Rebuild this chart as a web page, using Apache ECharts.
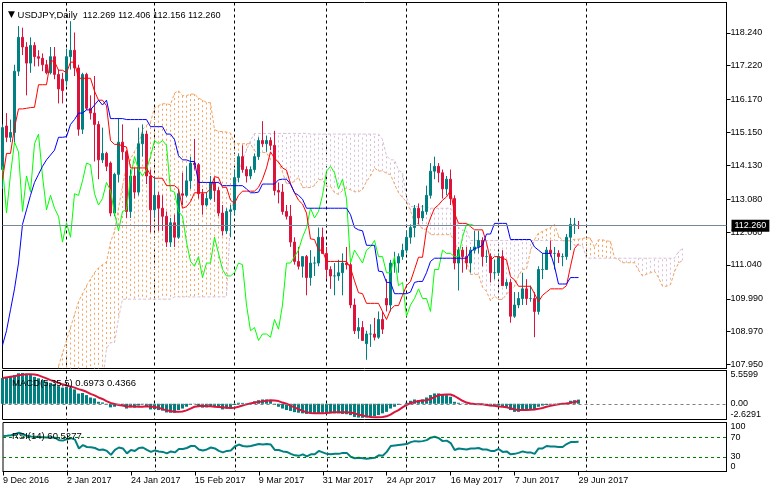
<!DOCTYPE html>
<html><head><meta charset="utf-8">
<script src="https://cdn.jsdelivr.net/npm/echarts@6/dist/echarts.min.js"></script>
<style>html,body{margin:0;padding:0;background:#fff}#c{width:771px;height:493px}</style>
</head><body><div id="c"></div>
<script>
// ---------- data ----------
const symbolTitle = 'USDJPY,Daily';
const dateLabels = ['9 Dec 2016','2 Jan 2017','24 Jan 2017','15 Feb 2017','9 Mar 2017','31 Mar 2017','24 Apr 2017','16 May 2017','7 Jun 2017','29 Jun 2017'];
const labelBars = [0,16,32,48,64,80,96,112,128,144];
const monthStarts = [16,38,58,81,101,124,146];
const priceTicks = [107.95,108.97,109.99,111.04,112.06,113.08,114.13,115.15,116.17,117.22,118.24];
const priceRange = [107.83,119.18];
const macdTicks = [-2.6291,0,5.5599];
const rsiTicks = [0,30,70,100];
const rsiLevels = [30,70];

const opens = [114.00,115.35,115.00,115.15,117.05,118.10,117.80,117.30,117.85,117.50,
117.45,117.25,117.00,117.50,116.95,116.80,116.75,117.50,117.70,117.15,
115.25,116.95,115.90,115.75,115.40,114.30,114.50,114.20,112.65,113.85,
114.85,114.55,112.70,113.80,113.30,114.80,115.10,113.80,112.75,113.20,
112.80,112.55,111.75,112.35,111.90,113.25,113.20,113.65,114.20,114.15,
113.25,112.90,113.10,113.60,113.35,112.65,112.10,112.70,112.75,113.75,
114.40,114.00,113.80,114.00,114.40,114.90,114.80,114.90,114.75,113.35,
113.30,112.70,112.55,111.75,111.15,111.00,111.30,110.65,111.10,111.10,
111.90,111.40,110.90,110.70,110.70,110.80,111.10,111.05,109.80,109.00,
109.10,108.60,108.90,108.90,108.80,109.35,110.00,109.80,111.10,111.10,
111.30,111.50,111.90,112.20,112.80,112.50,112.70,113.20,113.95,114.10,
113.90,113.40,113.70,113.10,111.10,111.50,111.30,111.10,111.50,111.60,
111.80,111.30,111.30,110.80,110.80,111.30,110.40,110.50,109.45,109.80,
110.00,110.30,110.00,110.00,109.60,110.90,110.90,111.50,111.40,111.40,
111.30,111.30,111.90,112.30,112.269];
const highs = [115.40,115.75,115.55,117.25,118.45,118.40,117.95,118.10,117.95,117.70,
117.60,117.40,117.80,117.80,117.10,117.00,117.75,118.60,118.25,117.25,
117.00,117.00,116.30,116.90,115.50,115.30,114.55,114.25,113.90,115.60,
115.40,114.60,114.00,114.05,115.30,115.40,115.20,114.00,113.80,113.30,
113.20,112.70,112.50,112.60,113.40,113.90,114.10,114.40,114.95,114.20,
113.40,113.30,113.80,113.75,113.45,112.90,112.80,112.90,114.00,114.50,
114.75,114.10,114.10,114.50,115.00,115.50,115.05,115.00,115.20,113.60,
113.55,112.90,112.90,111.90,111.60,111.30,111.35,111.50,111.30,112.20,
112.20,111.60,111.00,111.10,111.20,111.40,111.60,111.10,110.00,109.40,
109.30,109.00,109.20,109.40,109.60,109.60,110.60,111.20,111.45,111.40,
111.70,112.10,112.30,112.90,112.95,112.90,113.50,114.20,114.40,114.20,
114.00,113.80,114.00,113.20,111.60,111.60,111.60,111.60,112.10,112.10,
111.90,111.50,111.40,111.20,111.40,111.50,110.60,110.60,110.20,110.20,
110.80,110.60,110.40,110.20,111.00,111.40,111.60,111.80,111.60,111.50,
111.40,112.00,112.50,112.50,112.406];
const lows = [113.40,114.85,114.85,114.80,116.90,117.55,116.30,117.00,117.20,117.20,
117.05,116.95,116.95,116.80,116.05,116.05,116.60,117.10,116.90,115.05,
115.10,115.85,115.55,114.25,113.70,114.20,113.95,112.55,112.55,113.60,
114.30,112.50,112.50,113.10,113.20,114.40,113.55,112.05,112.50,112.10,
112.10,111.60,111.60,111.60,111.85,112.90,113.15,113.40,114.00,113.10,
112.60,112.85,113.05,113.00,112.55,111.95,112.00,111.90,112.60,113.60,
113.90,113.60,113.70,113.90,114.30,114.70,114.55,114.60,113.20,112.95,
112.60,112.45,111.60,111.05,110.90,110.65,110.10,110.40,110.70,111.00,
111.40,110.60,110.30,110.10,110.55,110.10,110.90,109.70,108.90,108.75,
108.70,108.10,108.50,108.70,108.75,108.90,109.60,109.60,110.80,110.80,
111.20,111.40,111.70,111.90,112.30,112.40,112.60,113.10,113.70,113.60,
113.10,113.20,112.90,110.90,110.25,110.80,110.90,110.80,111.40,111.40,
111.00,111.10,110.50,110.60,110.70,110.40,110.30,109.25,109.40,109.70,
109.80,109.80,109.90,108.80,109.50,110.60,110.90,111.30,110.90,111.10,
111.00,111.20,111.50,112.00,112.156];
const closes = [115.30,115.00,115.15,117.05,118.10,117.80,117.30,117.85,117.50,117.45,
117.25,117.00,117.50,116.95,116.50,116.45,117.50,117.70,117.15,115.25,
116.95,115.90,115.75,115.40,114.30,114.50,114.10,112.65,113.85,114.85,
114.55,112.70,113.80,113.30,114.80,115.10,113.80,112.75,113.20,112.80,
112.55,111.75,112.35,111.90,113.25,113.20,113.65,114.20,114.15,113.25,
112.90,113.10,113.60,113.35,112.65,112.10,112.70,112.75,113.75,114.40,
114.00,113.80,114.00,114.40,114.90,114.80,114.90,114.75,113.35,113.30,
112.70,112.55,111.75,111.15,111.00,111.30,110.65,111.10,111.10,111.90,
111.40,110.90,110.70,110.70,110.80,111.10,111.05,109.80,109.00,109.10,
108.70,108.90,108.90,108.80,109.35,109.05,109.80,111.10,111.10,111.30,
111.50,111.90,112.20,112.80,112.50,112.70,113.20,113.95,114.10,113.90,
113.40,113.70,113.10,111.10,111.50,111.30,111.10,111.50,111.60,111.80,
111.30,111.30,110.80,110.80,111.30,110.40,110.50,109.45,109.80,110.00,
110.30,110.00,110.00,109.60,110.90,110.90,111.50,111.40,111.40,111.30,
111.30,111.90,112.30,112.30,112.260];

const tenkan = [113.7,114.5,114.5,115.3,115.88,115.88,115.9,115.92,115.93,116.63,
116.63,116.63,117.38,117.35,117.08,117.08,117.0,117.33,117.33,116.83,
116.83,116.83,116.83,116.43,116.15,116.15,115.98,114.9,114.78,114.78,
114.73,114.7,114.05,114.05,114.05,114.05,114.05,113.83,113.73,113.73,
113.73,113.5,113.5,113.5,113.4,112.8,112.85,113.0,113.28,113.28,
113.28,113.28,113.4,113.78,113.75,113.45,113.45,113.05,112.95,113.2,
113.33,113.33,113.33,113.33,113.45,113.7,114.05,114.55,114.35,114.23,
114.05,113.98,113.55,113.28,113.05,112.93,112.65,111.85,111.83,111.5,
111.5,111.15,111.15,111.15,111.15,111.15,111.15,110.95,110.55,110.18,
110.15,109.85,109.85,109.85,109.85,109.6,109.35,109.65,109.78,109.78,
110.1,110.4,110.53,110.9,111.28,111.28,112.15,112.5,112.8,112.9,
113.05,113.15,113.35,112.65,112.33,112.33,112.33,112.23,112.13,112.13,
112.13,111.73,111.18,111.3,111.3,111.25,111.2,110.68,110.58,110.38,
110.38,110.38,110.38,110.15,109.9,110.1,110.2,110.3,110.3,110.3,
110.3,110.4,111.0,111.55,111.7];
const kijun = [108.55,109.0,109.65,110.3,111.1,112.3,112.75,113.2,113.6,113.85,
114.1,114.3,114.45,114.6,115.0,115.0,115.02,115.4,115.55,115.75,
115.75,115.85,115.85,116.0,116.15,116.0,116.15,115.58,115.58,115.58,
115.58,115.55,115.55,115.55,115.55,115.55,115.55,115.33,115.33,115.33,
115.33,115.1,115.1,114.93,114.43,114.3,114.3,114.25,114.25,113.6,
113.6,113.6,113.6,113.6,113.6,113.5,113.5,113.5,113.5,113.5,
113.5,113.4,113.28,113.28,113.3,113.55,113.55,113.55,113.55,113.68,
113.7,113.7,113.55,113.28,113.2,113.08,112.8,112.8,112.8,112.8,
112.8,112.8,112.8,112.8,112.8,112.8,112.8,112.6,112.2,112.13,
112.1,111.65,111.65,111.65,110.85,110.83,110.5,110.5,110.15,110.15,
110.15,110.15,110.2,110.5,110.53,110.53,110.8,111.15,111.25,111.25,
111.25,111.25,111.25,111.25,111.25,111.25,111.25,111.45,111.55,111.58,
111.65,112.0,112.0,112.33,112.33,112.33,112.33,111.83,111.83,111.83,
111.83,111.83,111.83,111.6,111.5,111.4,111.4,111.4,111.0,110.45,
110.45,110.45,110.65,110.65,110.65];
const spanA = [null,null,null,null,null,null,null,null,null,null,null,null,null,null,
107.9,108.3,108.7,109.1,109.5,109.9,110.15,110.4,110.6,110.8,110.95,111.05,
111.13,111.75,112.08,112.8,113.49,114.09,114.33,114.56,114.77,115.24,
115.37,115.47,115.92,115.98,116.04,116.04,116.01,116.37,116.44,116.29,
116.29,116.34,116.34,116.22,116.15,116.08,116.07,115.24,115.18,115.18,
115.16,115.13,114.8,114.8,114.8,114.8,114.8,114.58,114.53,114.53,
114.53,114.3,114.3,114.22,113.92,113.55,113.58,113.63,113.77,113.44,
113.44,113.44,113.5,113.69,113.68,113.48,113.48,113.28,113.23,113.35,
113.42,113.37,113.31,113.31,113.38,113.63,113.8,114.05,113.95,113.96,
113.88,113.84,113.55,113.28,113.13,113.0,112.73,112.33,112.32,112.15,
112.15,111.98,111.98,111.98,111.98,111.98,111.98,111.78,111.38,111.16,
111.13,110.75,110.75,110.75,110.35,110.22,109.93,110.08,109.97,109.97,
110.13,110.28,110.37,110.7,110.91,110.91,111.48,111.83,112.03,112.08,
112.15,112.2,112.3,111.95,111.79,111.79,111.79,111.84,111.84,111.86,
111.89,111.87,111.59,111.82,111.82,111.79,111.77,111.26,111.21,111.11,
111.11,111.11,111.11,110.88,110.7,110.75,110.8,110.85,110.65,110.38,
110.38,110.43,110.83,111.1,111.18];
const spanB = [107.4,107.4,107.4,107.4,107.4,107.4,107.4,107.4,107.4,107.4,107.4,107.4,107.4,
107.4,107.4,107.4,107.4,107.4,107.4,107.4,107.4,107.4,107.4,107.4,107.4,107.4,
108.45,108.63,108.63,109.38,
109.98,109.98,109.98,109.98,109.98,109.98,109.98,109.98,109.98,109.98,109.98,109.98,109.98,
110.05,110.05,110.05,110.05,110.05,110.05,110.05,110.05,110.05,110.05,110.05,110.05,110.05,110.05,
112.5,113.3,113.9,114.3,114.6,114.9,
115.12,115.12,115.12,115.12,115.12,115.12,115.12,115.12,115.12,115.12,115.12,115.12,115.12,115.12,
115.1,115.1,115.1,115.1,115.1,115.1,115.1,115.1,115.1,115.1,115.1,115.1,115.1,115.1,115.1,115.1,115.1,115.1,
114.93,114.43,114.3,114.3,113.98,113.9,113.13,
112.85,112.85,112.85,112.85,112.85,
112.8,112.8,112.8,112.8,112.8,112.8,
112.6,112.2,112.13,112.1,
111.8,111.8,111.8,111.8,111.8,111.8,111.8,111.8,111.8,111.8,111.8,111.8,111.8,
111.8,111.8,111.8,111.8,111.8,111.8,111.8,111.8,111.8,111.8,111.8,111.8,111.8,
111.65,111.65,111.65,
111.25,111.25,111.25,111.25,111.25,111.25,111.25,111.25,111.25,111.25,111.25,111.25,
111.25,111.25,111.25,111.25,111.25,111.25,111.25,111.25,111.25,111.25,111.25,
111.45,111.55];

const macdMain = [4.3,4.5,4.6,4.8,5.1,5.15,5.0,4.8,4.5,4.25,
3.95,3.7,3.5,3.3,2.95,2.7,2.8,2.7,2.4,1.7,
1.8,1.45,1.05,0.9,0.33,0.22,-0.1,-0.6,-0.5,-0.05,
-0.2,-0.8,-0.6,-0.65,-0.3,-0.05,-0.4,-0.95,-0.9,-1.05,
-1.15,-1.45,-1.5,-1.5,-1.05,-0.8,-0.5,-0.2,-0.05,-0.4,
-0.65,-0.6,-0.4,-0.4,-0.65,-0.95,-0.8,-0.65,-0.2,0.17,
0.15,0.05,0.15,0.4,0.6,0.72,0.72,0.6,-0.2,-0.5,
-0.8,-1.05,-1.2,-1.4,-1.5,-1.6,-1.7,-1.6,-1.6,-1.55,
-1.5,-1.6,-1.6,-1.6,-1.6,-1.7,-1.75,-1.9,-2.2,-2.3,
-2.35,-2.3,-2.2,-2.1,-1.9,-1.6,-1.35,-0.8,-0.5,-0.2,
0.0,0.17,0.5,0.72,0.6,0.72,1.05,1.45,1.73,1.73,
1.6,1.45,1.17,0.33,0.17,0.05,-0.1,-0.1,0.05,0.05,
-0.1,-0.2,-0.4,-0.4,-0.3,-0.5,-0.65,-1.05,-1.35,-1.35,
-1.05,-0.95,-0.95,-1.05,-0.5,-0.3,-0.2,-0.1,0.05,0.05,
0.05,0.17,0.5,0.6,0.6973];
const macdSignal = [4.3,4.4,4.5,4.6,4.75,4.85,4.95,4.95,4.9,4.75,
4.5,4.25,3.95,3.75,3.5,3.25,3.05,2.9,2.7,2.45,
2.25,2.0,1.65,1.4,1.05,0.8,0.45,0.15,-0.05,-0.2,
-0.3,-0.45,-0.45,-0.45,-0.5,-0.5,-0.4,-0.45,-0.55,-0.65,
-0.9,-1.1,-1.2,-1.35,-1.35,-1.3,-1.1,-0.8,-0.5,-0.4,
-0.35,-0.4,-0.4,-0.5,-0.55,-0.6,-0.65,-0.7,-0.65,-0.5,
-0.3,-0.1,0.05,0.2,0.3,0.4,0.5,0.6,0.55,0.45,
0.2,0.0,-0.3,-0.6,-0.9,-1.2,-1.4,-1.55,-1.6,-1.6,
-1.6,-1.55,-1.45,-1.4,-1.4,-1.4,-1.4,-1.45,-1.6,-1.8,
-1.95,-2.1,-2.2,-2.25,-2.25,-2.2,-2.1,-1.8,-1.4,-1.05,
-0.6,-0.2,0.1,0.3,0.45,0.55,0.6,0.8,1.1,1.45,
1.5,1.55,1.55,1.3,0.9,0.5,0.2,0.05,-0.05,-0.1,
-0.1,-0.2,-0.3,-0.35,-0.45,-0.5,-0.6,-0.75,-0.95,-1.05,
-1.05,-1.05,-1.0,-0.95,-0.85,-0.7,-0.5,-0.35,-0.2,-0.1,
0.0,0.05,0.15,0.3,0.4366];
const rsi = [72.7,73,74,76,79,76,73,71.5,71,70.5,
70,69.5,70,69,64,63,66,68,65,47,
54,50,49.5,48,44,45,42,34,44,49,
47,37,44,42,48,49,44,40,43,41,
40,37,41,39,46,46,48,52,52,45,
43,45,49,47,42,39,42,43,51,55,
52,51,52,54,56,55,56,55,44,44,
41,40,36,33,32,35,31,35,35,42,
39,36,35,36,36,38,38,30,27,28,
27,26,27,28,33,32,40,52,53,54,
55,56,60,62,61,62,64,69,71,68,
62,63,58,44,47,46,45,47,47,48,
45,45,42,42,46,40,41,35,36,38,
41,39,39,36,47,47,52,51,51,50,
50,56,60,60,60.5277];

// ---------- chart ----------
const FONT = 'Liberation Sans';
const N = 182;
const cats = Array.from({length: N}, (_, i) => String(i));
const last = closes.length - 1;
const candleData = opens.map((o, i) => [o, closes[i], lows[i], highs[i]]);
const chikou = closes.slice(26);
const cloudData = [];
spanA.forEach((a, j) => { if (a != null && spanB[j] != null) cloudData.push([j, a, spanB[j]]); });

const isMonth = (idx) => monthStarts.indexOf(idx) >= 0;
const isLabel = (idx) => labelBars.indexOf(idx) >= 0;
const sep = {show: true, interval: isMonth, lineStyle: {color: '#000', type: [3, 3], width: 1}};

function xAx(g, withLabels) {
  return {
    type: 'category', gridIndex: g, data: cats, boundaryGap: false,
    axisLine: {show: withLabels, lineStyle: {color: '#000'}},
    axisTick: {show: withLabels, interval: isLabel, length: 4, lineStyle: {color: '#000'}},
    axisLabel: {show: withLabels, interval: isLabel, align: 'left', margin: 5,
      fontFamily: FONT, fontSize: 9, color: '#000',
      formatter: (v, idx) => dateLabels[labelBars.indexOf(Number(v))] || ''},
    splitLine: sep
  };
}
const labelStyle = {fontFamily: FONT, fontSize: 9, color: '#000', margin: 4};
const GL = 2.5, GW = 724;
const quote = [opens[last], highs[last], lows[last], closes[last]].map(v => v.toFixed(3)).join(' ');

const option = {
  animation: false,
  backgroundColor: '#fff',
  title: [
    {left: 3, top: 5, text: '{t|▼} ' + symbolTitle + '  {n|' + quote + '}',
      textStyle: {fontFamily: FONT, fontSize: 9.5, fontWeight: 'normal', color: '#000',
        rich: {t: {fontSize: 9, color: '#000', fontFamily: 'DejaVu Sans'}, n: {fontSize: 9.2, color: '#000', fontFamily: FONT}}}},
    {left: 7, top: 373, text: 'MACD(5,35,5) ' + macdMain[last].toFixed(4) + ' ' + macdSignal[last].toFixed(4),
      textStyle: {fontFamily: FONT, fontSize: 9.5, fontWeight: 'normal', color: '#000'}},
    {left: 7, top: 426, text: 'RSI(14) ' + rsi[last].toFixed(4),
      textStyle: {fontFamily: FONT, fontSize: 9.5, fontWeight: 'normal', color: '#000'}}
  ],
  grid: [
    {left: GL, top: 2.5, width: GW, height: 366, show: true, borderColor: '#000', borderWidth: 1},
    {left: GL, top: 370.5, width: GW, height: 49, show: true, borderColor: '#000', borderWidth: 1},
    {left: GL, top: 422.5, width: GW, height: 49, show: true, borderColor: '#000', borderWidth: 1}
  ],
  xAxis: [xAx(0, false), xAx(1, false), xAx(2, true)],
  yAxis: [
    {type: 'value', gridIndex: 0, position: 'right', min: priceRange[0], max: priceRange[1],
      axisLine: {show: true, lineStyle: {color: '#000'}},
      axisTick: {show: true, length: 4, customValues: priceTicks, lineStyle: {color: '#000'}},
      axisLabel: Object.assign({customValues: priceTicks, formatter: v => v.toFixed(3)}, labelStyle),
      splitLine: {show: false}},
    {type: 'value', gridIndex: 1, position: 'right', min: macdTicks[0], max: macdTicks[2],
      axisLine: {show: true, lineStyle: {color: '#000'}},
      axisTick: {show: false},
      axisLabel: Object.assign({customValues: macdTicks, formatter: v => v === 0 ? '0.00' : v.toFixed(4),
        verticalAlignMinLabel: 'bottom', verticalAlignMaxLabel: 'top'}, labelStyle),
      splitLine: {show: false}},
    {type: 'value', gridIndex: 2, position: 'right', min: rsiTicks[0], max: rsiTicks[3],
      axisLine: {show: true, lineStyle: {color: '#000'}},
      axisTick: {show: false},
      axisLabel: Object.assign({customValues: rsiTicks, formatter: v => String(v),
        verticalAlignMinLabel: 'bottom', verticalAlignMaxLabel: 'top'}, labelStyle),
      splitLine: {show: false}}
  ],
  series: [
    {type: 'custom', name: 'kumo', xAxisIndex: 0, yAxisIndex: 0, z: 1, silent: true,
      data: cloudData, encode: {x: 0, y: [1, 2]},
      renderItem: (params, api) => {
        const j = api.value(0), a = api.value(1), b = api.value(2);
        const cs = params.coordSys;
        const p1 = api.coord([j, a]), p2 = api.coord([j, b]);
        const clampY = y => Math.min(Math.max(y, cs.y), cs.y + cs.height);
        return {type: 'line', shape: {x1: p1[0], y1: clampY(p1[1]), x2: p2[0], y2: clampY(p2[1])},
          style: {stroke: a >= b ? '#F4A460' : '#D8BFD8', lineWidth: 1, lineDash: [2, 3]}};
      }},
    {type: 'line', name: 'SpanA', xAxisIndex: 0, yAxisIndex: 0, z: 2, data: spanA, symbol: 'none',
      lineStyle: {color: '#F4A460', width: 1, type: [3, 2]}, silent: true},
    {type: 'line', name: 'SpanB', xAxisIndex: 0, yAxisIndex: 0, z: 2, data: spanB, symbol: 'none',
      lineStyle: {color: '#D8BFD8', width: 1, type: [3, 2]}, silent: true},
    {type: 'candlestick', name: 'USDJPY', xAxisIndex: 0, yAxisIndex: 0, z: 3, data: candleData,
      barWidth: 2,
      itemStyle: {color: '#008080', color0: '#DC143C', borderColor: '#008080', borderColor0: '#DC143C', borderWidth: 1},
      markLine: {silent: true, symbol: ['none', 'none'], animation: false,
        data: [{yAxis: closes[last]}],
        lineStyle: {color: '#778899', type: 'solid', width: 1},
        label: {show: true, position: 'end', distance: 5, formatter: closes[last].toFixed(3),
          color: '#fff', backgroundColor: '#000', padding: [2, 3, 1, 3], fontFamily: FONT, fontSize: 9}}},
    {type: 'line', name: 'Chikou', xAxisIndex: 0, yAxisIndex: 0, z: 4, data: chikou, symbol: 'none',
      lineStyle: {color: '#00FF00', width: 1}, silent: true},
    {type: 'line', name: 'Tenkan', xAxisIndex: 0, yAxisIndex: 0, z: 4, data: tenkan, symbol: 'none',
      lineStyle: {color: '#FF0000', width: 1}, silent: true},
    {type: 'line', name: 'Kijun', xAxisIndex: 0, yAxisIndex: 0, z: 4, data: kijun, symbol: 'none',
      lineStyle: {color: '#0000FF', width: 1}, silent: true},
    {type: 'bar', name: 'MACD', xAxisIndex: 1, yAxisIndex: 1, data: macdMain, barWidth: 3,
      itemStyle: {color: '#008080'}, silent: true,
      markLine: {silent: true, symbol: ['none', 'none'], data: [{yAxis: 0}], label: {show: false},
        lineStyle: {color: '#808080', type: [3, 3], width: 1}}},
    {type: 'line', name: 'Signal', xAxisIndex: 1, yAxisIndex: 1, data: macdSignal, symbol: 'none',
      lineStyle: {color: '#DC143C', width: 2}, silent: true},
    {type: 'line', name: 'RSI', xAxisIndex: 2, yAxisIndex: 2, data: rsi, symbol: 'none',
      lineStyle: {color: '#008080', width: 2}, silent: true,
      markLine: {silent: true, symbol: ['none', 'none'], data: rsiLevels.map(v => ({yAxis: v})), label: {show: false},
        lineStyle: {color: '#008000', type: [3, 3], width: 1}}}
  ]
};
const chart = echarts.init(document.getElementById('c'));
chart.setOption(option);
</script></body></html>
